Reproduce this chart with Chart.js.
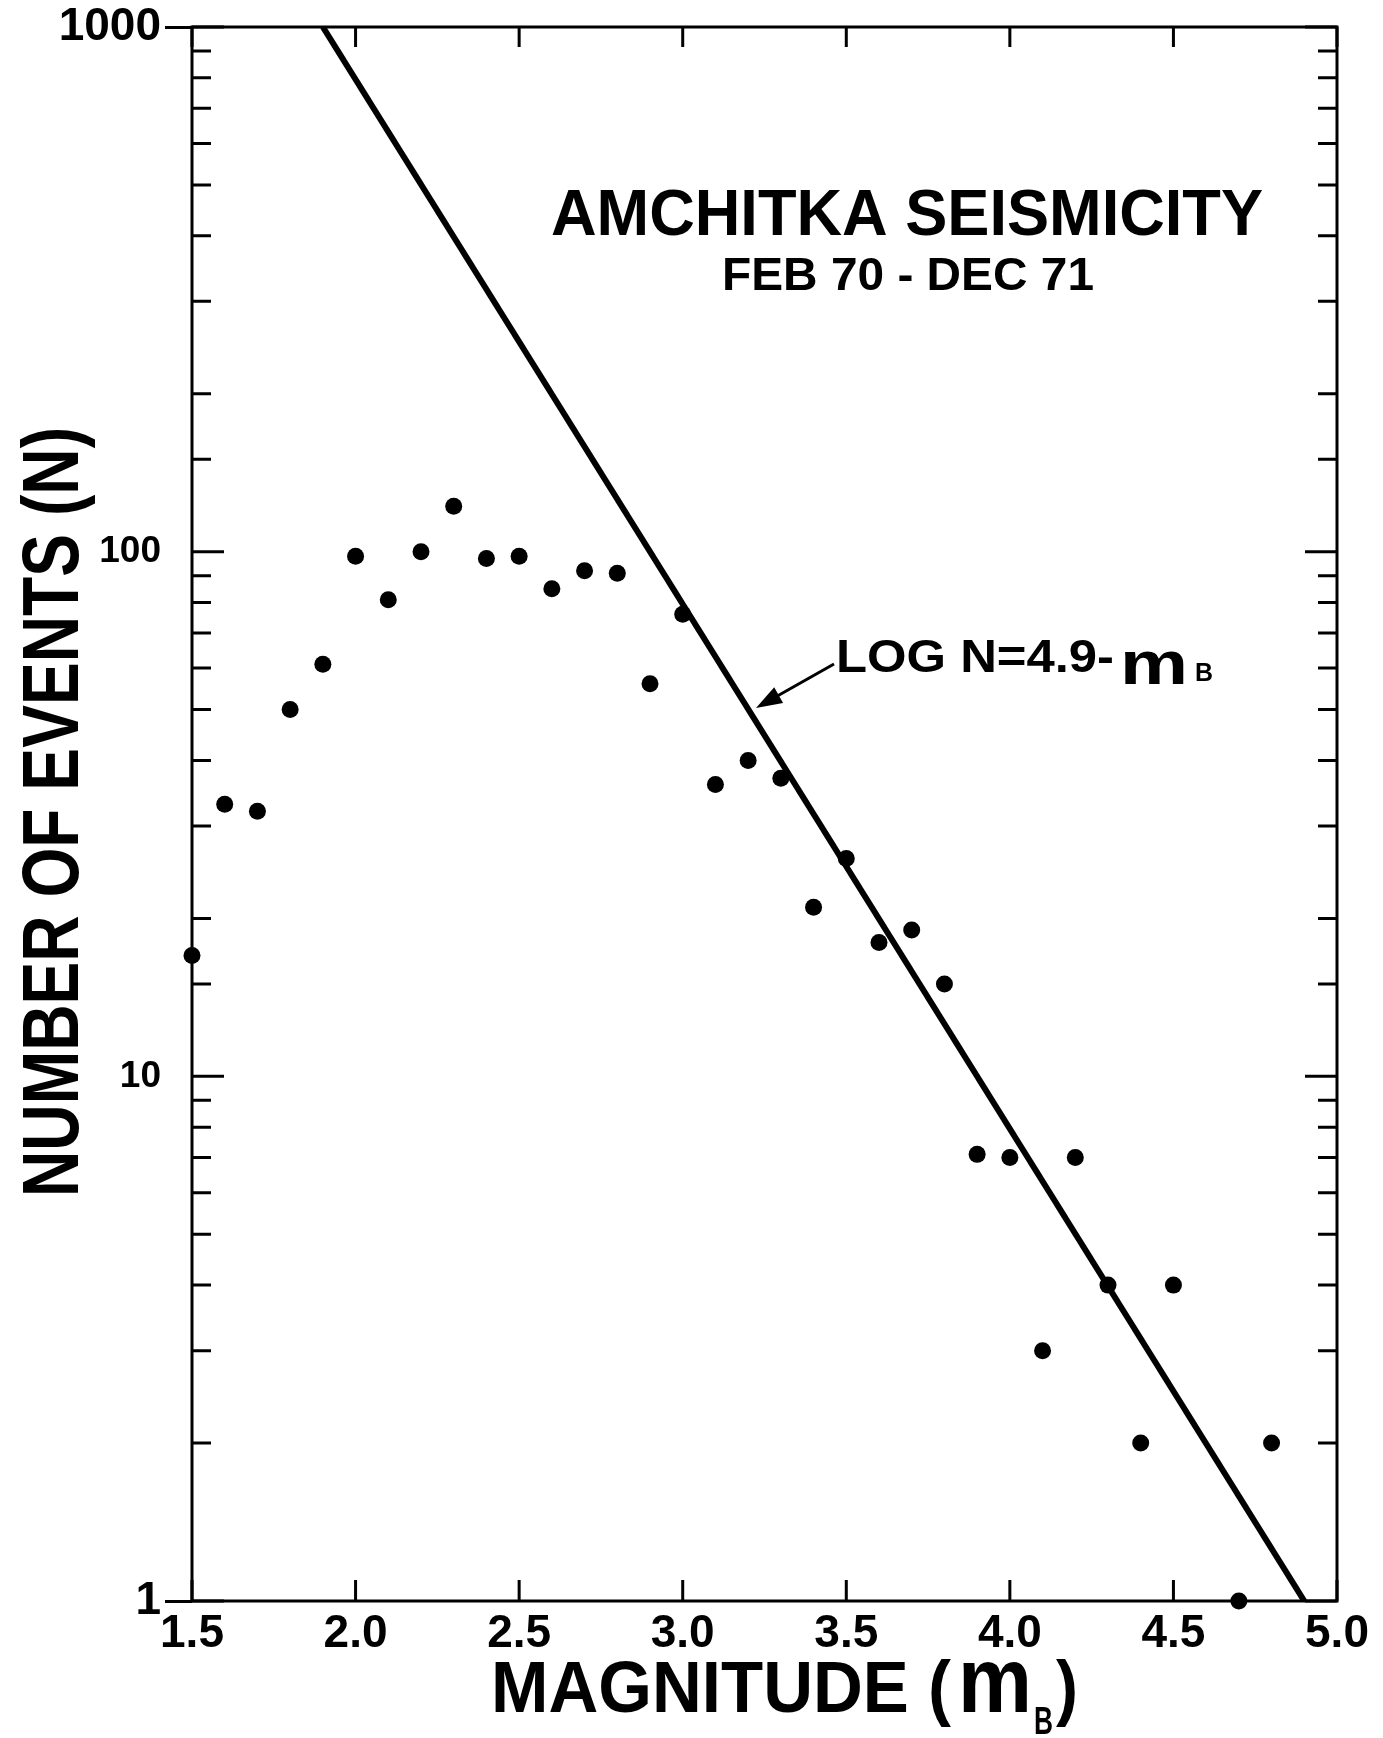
<!DOCTYPE html>
<html>
<head>
<meta charset="utf-8">
<title>Amchitka Seismicity</title>
<script src="https://cdn.jsdelivr.net/npm/chart.js@4.4.1/dist/chart.umd.min.js"></script>
<style>
  html, body { margin: 0; padding: 0; background: #fff; }
  #wrap { width: 1383px; height: 1738px; }
</style>
</head>
<body>
<div id="wrap"><canvas id="seismicityChart"></canvas></div>
<script>
// Amchitka seismicity, Feb 70 - Dec 71: number of events vs body-wave magnitude

// observed counts per 0.1 magnitude bin
var magnitudes = [1.5, 1.6, 1.7, 1.8, 1.9, 2.0, 2.1, 2.2, 2.3, 2.4,
                  2.5, 2.6, 2.7, 2.8, 2.9, 3.0, 3.1, 3.2, 3.3, 3.4,
                  3.5, 3.6, 3.7, 3.8, 3.9, 4.0, 4.1, 4.2, 4.3, 4.4,
                  4.5, 4.7, 4.8];
var eventCounts = [17, 33, 32, 50, 61, 98, 81, 100, 122, 97,
                   98, 85, 92, 91, 56, 76, 36, 40, 37, 21,
                   26, 18, 19, 15, 7.1, 7, 3, 7, 4, 2,
                   4, 1, 2];

// fitted line LOG N = 4.9 - mB (end points)
var fitMagnitudes = [1.9, 4.9];
var fitCounts = [1000, 1];

// labelled ticks
var yTickLabels = [1, 10, 100, 1000];

var FONT = '"Liberation Sans", Arial, sans-serif';

// draw text squeezed/stretched to a given width
function fitText(ctx, str, x, y, font, width) {
    ctx.font = font;
    var w = ctx.measureText(str).width;
    ctx.save();
    ctx.translate(x, y);
    ctx.scale(width / w, 1);
    ctx.textAlign = 'left';
    ctx.textBaseline = 'alphabetic';
    ctx.fillText(str, 0, 0);
    ctx.restore();
}

function isDecade(v) {
    var l = Math.log10(v);
    return Math.abs(l - Math.round(l)) < 1e-9;
}

var framePlugin = {
    id: 'frameAndNotes',
    beforeDatasetsDraw: function (chart) {
        var ctx = chart.ctx, a = chart.chartArea;
        var xs = chart.scales.x, ys = chart.scales.y;
        ctx.save();
        ctx.strokeStyle = '#000';
        ctx.lineWidth = 3;
        ctx.strokeRect(a.left, a.top, a.right - a.left, a.bottom - a.top);
        ctx.beginPath();
        // inward ticks, left and right
        ys.ticks.forEach(function (t) {
            var p = ys.getPixelForValue(t.value);
            var len = isDecade(t.value) ? 32 : 19;
            ctx.moveTo(a.left, p); ctx.lineTo(a.left + len, p);
            ctx.moveTo(a.right, p); ctx.lineTo(a.right - len, p);
        });
        // inward ticks, bottom and top
        xs.ticks.forEach(function (t) {
            var p = xs.getPixelForValue(t.value);
            ctx.moveTo(p, a.bottom); ctx.lineTo(p, a.bottom - 21);
            ctx.moveTo(p, a.top); ctx.lineTo(p, a.top + 20);
        });
        ctx.stroke();
        ctx.restore();
    },
    afterDraw: function (chart) {
        var ctx = chart.ctx;
        ctx.save();
        ctx.fillStyle = '#000';

        // titles
        fitText(ctx, 'AMCHITKA SEISMICITY', 551, 235, 'bold 65px ' + FONT, 712);
        fitText(ctx, 'FEB 70 - DEC 71', 722, 290, 'bold 46px ' + FONT, 372);

        // fitted line label
        fitText(ctx, 'LOG N=4.9-', 836, 672, 'bold 46px ' + FONT, 278);
        fitText(ctx, 'm', 1120, 684, 'bold 62px ' + FONT, 68);
        fitText(ctx, 'B', 1195, 681, 'bold 26px ' + FONT, 18);

        // arrow to the line
        ctx.strokeStyle = '#000';
        ctx.lineWidth = 3;
        ctx.beginPath();
        ctx.moveTo(834, 664);
        ctx.lineTo(772, 699);
        ctx.stroke();
        var ang = Math.atan2(708 - 665, 756 - 832);
        ctx.beginPath();
        ctx.moveTo(756, 708);
        ctx.lineTo(756 - 26 * Math.cos(ang) + 9 * Math.sin(ang), 708 - 26 * Math.sin(ang) - 9 * Math.cos(ang));
        ctx.lineTo(756 - 26 * Math.cos(ang) - 9 * Math.sin(ang), 708 - 26 * Math.sin(ang) + 9 * Math.cos(ang));
        ctx.closePath();
        ctx.fill();

        // x axis title
        fitText(ctx, 'MAGNITUDE (', 491, 1712, 'bold 72px ' + FONT, 460);
        fitText(ctx, 'm', 958, 1712, 'bold 92px ' + FONT, 74);
        fitText(ctx, 'B', 1034, 1734, 'bold 38px ' + FONT, 19);
        fitText(ctx, ')', 1056, 1712, 'bold 72px ' + FONT, 22);

        // y axis title
        ctx.translate(78, 1197);
        ctx.rotate(-Math.PI / 2);
        fitText(ctx, 'NUMBER OF EVENTS (N)', 0, 0, 'bold 80px ' + FONT, 770);
        ctx.restore();
    }
};

var scatterPoints = magnitudes.map(function (m, i) { return { x: m, y: eventCounts[i] }; });
var fitPoints = fitMagnitudes.map(function (m, i) { return { x: m, y: fitCounts[i] }; });

var ctx = document.getElementById('seismicityChart').getContext('2d');
var seismicityChart = new Chart(ctx, {
    type: 'scatter',
    data: {
        datasets: [{
            label: 'Events',
            data: scatterPoints,
            pointRadius: 8.5,
            pointBackgroundColor: '#000',
            pointBorderWidth: 0,
            clip: false
        }, {
            type: 'line',
            label: 'LOG N = 4.9 - mB',
            data: fitPoints,
            borderColor: '#000',
            borderWidth: 6,
            pointRadius: 0,
            fill: false
        }]
    },
    options: {
        responsive: true,
        maintainAspectRatio: false,
        animation: false,
        layout: { padding: { top: 23, right: 46, bottom: 0, left: 0 } },
        plugins: {
            legend: { display: false },
            tooltip: { enabled: false }
        },
        scales: {
            x: {
                type: 'linear',
                min: 1.5,
                max: 5.0,
                grid: { display: false, drawTicks: false },
                border: { display: false },
                ticks: {
                    stepSize: 0.5,
                    padding: 10,
                    color: '#000',
                    font: { family: FONT, size: 46, weight: 'bold', lineHeight: 1 },
                    callback: function (v) { return Number(v).toFixed(1); }
                },
                afterFit: function (s) { s.height = 137; }
            },
            y: {
                type: 'logarithmic',
                min: 1,
                max: 1000,
                grid: {
                    drawOnChartArea: false,
                    drawTicks: true,
                    tickLength: 27,
                    tickWidth: 3,
                    tickColor: function (c) {
                        var v = c.tick && c.tick.value;
                        return (v === 1 || v === 1000) ? '#000' : 'rgba(0,0,0,0)';
                    }
                },
                border: { display: false },
                ticks: {
                    autoSkip: false,
                    padding: 4,
                    color: '#000',
                    font: function (c) {
                        var v = c.tick && c.tick.value;
                        var big = v === 1 || v === 1000;
                        return { family: FONT, size: big ? 46 : 37, weight: 'bold', lineHeight: 1 };
                    },
                    callback: function (v) { return yTickLabels.indexOf(v) >= 0 ? String(v) : ''; }
                },
                afterFit: function (s) { s.width = 192; }
            }
        }
    },
    plugins: [framePlugin]
});
</script>
</body>
</html>
